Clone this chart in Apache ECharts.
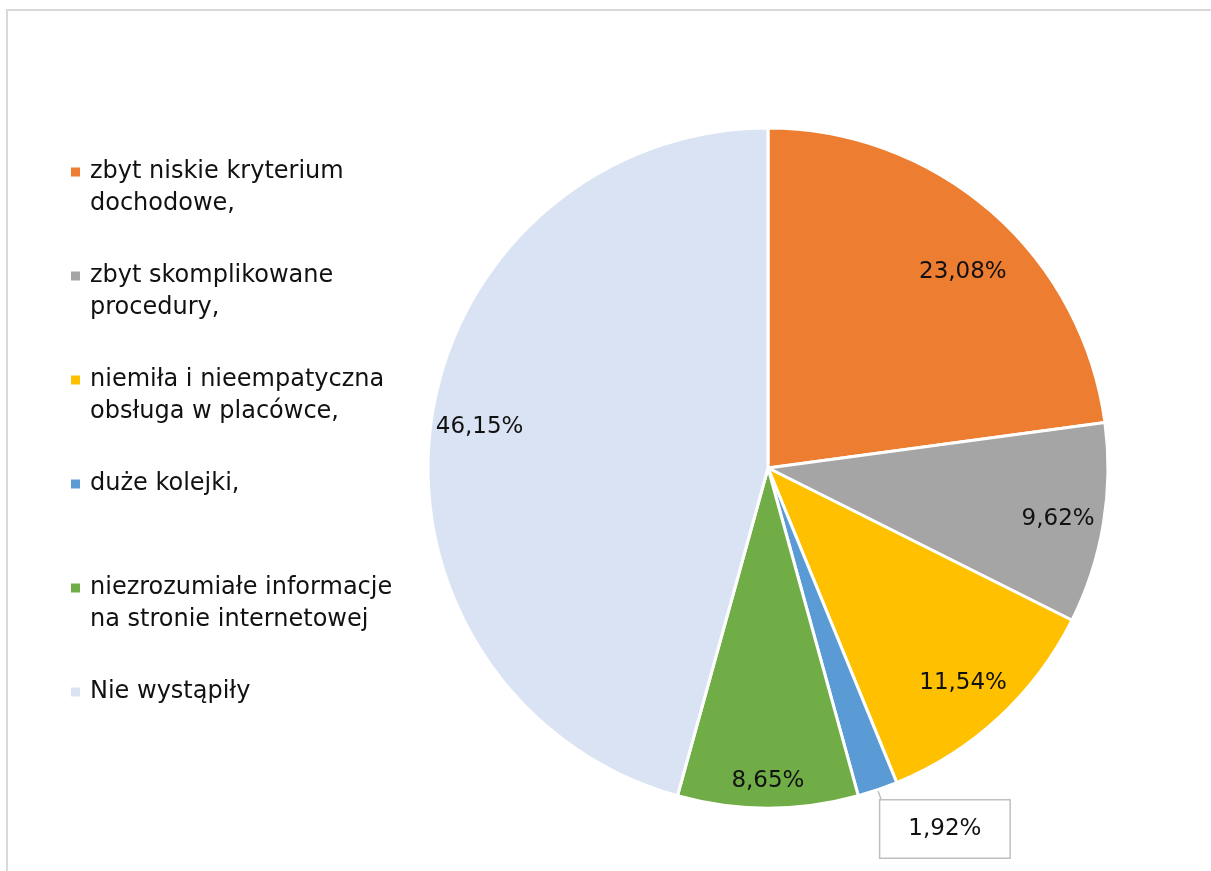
<!DOCTYPE html>
<html>
<head>
<meta charset="utf-8">
<script src="https://cdn.jsdelivr.net/npm/echarts@6/dist/echarts.min.js"></script>
<style>
html, body { margin: 0; padding: 0; background: #fff; }
#frame { position: absolute; left: 6px; top: 9px; width: 1240px; height: 900px; border: 2px solid #d9d9d9; box-sizing: border-box; }
#chart { position: absolute; left: 0; top: 0; width: 1211px; height: 871px; }
</style>
</head>
<body>
<div id="frame"></div>
<div id="chart"></div>
<script>
const categories = [
  'zbyt niskie kryterium dochodowe,',
  'zbyt skomplikowane procedury,',
  'niemiła i nieempatyczna obsługa w placówce,',
  'duże kolejki,',
  'niezrozumiałe informacje na stronie internetowej',
  'Nie wystąpiły'
]
// legend text broken the same way as on the picture
const legendLines = [
  ['zbyt niskie kryterium', 'dochodowe,'],
  ['zbyt skomplikowane', 'procedury,'],
  ['niemiła i nieempatyczna', 'obsługa w placówce,'],
  ['duże kolejki,', ' '],
  ['niezrozumiałe informacje', 'na stronie internetowej'],
  ['Nie wystąpiły', ' ']
]
const values = [23.08, 9.62, 11.54, 1.92, 8.65, 46.15]
const colors = ['#ED7D31', '#A5A5A5', '#FFC000', '#5B9BD5', '#70AD47', '#DAE3F3']

const font = 'DejaVu Sans'
const center = [768, 468]

// small nudges so the labels sit where the original put them
const labelNudge = [[6, 20], [7, 4], [0, 5], [-9, 5], [0, 26], [-4, -2]]

function pct(v) {
  return v.toFixed(2).replace('.', ',') + '%'
}

const myChart = echarts.init(document.getElementById('chart'))

const option = {
  animation: false,
  color: colors,
  legend: {
    orient: 'vertical',
    left: 66,
    top: 119,
    icon: 'rect',
    itemWidth: 9,
    itemHeight: 9,
    itemGap: 8,
    itemStyle: { borderWidth: 0 },
    data: categories,
    formatter: function (name) {
      const i = categories.indexOf(name)
      return ' \n' + legendLines[i].join('\n')
    },
    textStyle: {
      fontFamily: font,
      fontSize: 24,
      lineHeight: 32,
      color: '#111',
      padding: [0, 0, 0, 5]
    }
  },
  series: [
    {
      type: 'pie',
      center: center,
      radius: 340,
      startAngle: 90,
      clockwise: true,
      silent: true,
      label: { show: false },
      labelLine: { show: false },
      itemStyle: { borderColor: '#fff', borderWidth: 3 },
      data: categories.map(function (c, i) {
        return { name: c, value: values[i] }
      })
    },
    {
      // ring used only to place the percent labels near the rim
      type: 'pie',
      center: center,
      radius: [228, 340],
      startAngle: 90,
      clockwise: true,
      silent: true,
      avoidLabelOverlap: false,
      itemStyle: { color: 'rgba(0,0,0,0)' },
      label: {
        show: true,
        position: 'inside',
        fontFamily: font,
        fontSize: 23,
        color: '#111',
        formatter: function (p) { return pct(p.value) }
      },
      labelLine: { show: false },
      labelLayout: function (p) {
        const n = labelNudge[p.dataIndex]
        return { dx: n[0], dy: n[1] }
      },
      data: categories.map(function (c, i) {
        if (i === 3) {
          return {
            name: c,
            value: values[i],
            label: {
              position: 'outside',
              distanceToLabelLine: 0,
              backgroundColor: '#fff',
              borderColor: '#bfbfbf',
              borderWidth: 1.5,
              padding: [17, 28]
            },
            labelLine: {
              show: true,
              length: 36,
              length2: 0,
              lineStyle: { color: '#bfbfbf', width: 1.5 }
            }
          }
        }
        return { name: c, value: values[i] }
      })
    }
  ]
}

myChart.setOption(option)
window.addEventListener('resize', function () {
  myChart.resize()
})
</script>
</body>
</html>
